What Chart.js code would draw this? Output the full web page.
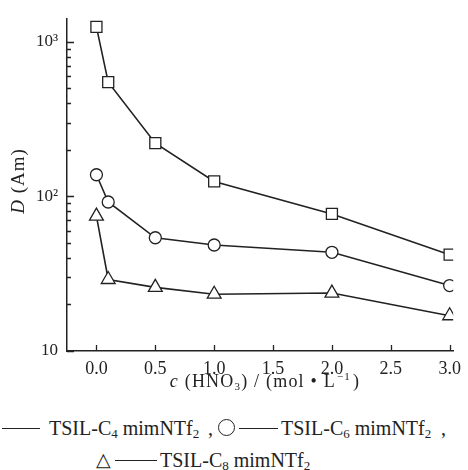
<!DOCTYPE html>
<html>
<head>
<meta charset="utf-8">
<script src="https://cdn.jsdelivr.net/npm/chart.js@4/dist/chart.umd.min.js"></script>
<style>
  html, body { margin: 0; padding: 0; background: #fff; }
  #wrap { position: relative; width: 468px; height: 470px; overflow: hidden;
          font-family: "Liberation Serif", "Times New Roman", serif; color: #222; }
  #chartBox { position: absolute; left: 0; top: 0; width: 468px; height: 400px; }
  .ytitle { position: absolute; left: 18px; top: 181px; transform: translate(-50%, -50%) rotate(-90deg);
            font-size: 19px; white-space: nowrap; letter-spacing: 1px; }
  .xtitle { position: absolute; left: 265px; top: 381px; transform: translate(-50%, -50%);
            font-size: 18px; white-space: nowrap; letter-spacing: 1.2px; }
  .xtitle sub { font-size: 11px; vertical-align: -3px; }
  .xtitle sup { font-size: 11px; vertical-align: 7px; margin: 0 2px 0 1px; }
  .leg { position: absolute; font-size: 20px; white-space: nowrap; line-height: 20px; }
  .leg sub { font-size: 13px; vertical-align: -3px; }
  .dash { position: absolute; height: 0; border-top: 1.3px solid #222; }
  .circ { position: absolute; width: 15px; height: 15px; border: 1.3px solid #222; border-radius: 50%; }
  i { font-style: italic; }
</style>
</head>
<body>
<div id="wrap">
  <div id="chartBox"><canvas id="chart"></canvas></div>
  <div class="ytitle"><i>D</i> (Am)</div>
  <div class="xtitle"><i>c</i> (HNO<sub>3</sub>) / (mol • L<sup>−1</sup>)</div>

  <div class="dash" style="left:2px; top:428px; width:38px;"></div>
  <span class="leg" style="left:49px; top:418px;">TSIL-C<sub>4</sub> mimNTf<sub>2</sub></span>
  <span class="leg" style="left:208px; top:418px;">,</span>
  <div class="circ" style="left:218px; top:419px;"></div>
  <div class="dash" style="left:239px; top:428px; width:39px;"></div>
  <span class="leg" style="left:281px; top:418px;">TSIL-C<sub>6</sub> mimNTf<sub>2</sub></span>
  <span class="leg" style="left:441px; top:418px;">,</span>

  <span class="leg" style="left:96px; top:450px; font-size:19px;">△</span>
  <div class="dash" style="left:115px; top:460px; width:42px;"></div>
  <span class="leg" style="left:160px; top:450px;">TSIL-C<sub>8</sub> mimNTf<sub>2</sub></span>
</div>
<script>
  /* ---------- 数据 ---------- */
  var HNO3 = [0, 0.1, 0.5, 1.0, 2.0, 3.0];
  var D_C4 = [1250, 548, 221, 125, 77, 42];
  var D_C6 = [138, 92, 54, 48.5, 43.5, 26.5];
  var D_C8 = [74.5, 29, 25.8, 23.3, 23.7, 16.9];
  var X_TICKS = [0, 0.5, 1.0, 1.5, 2.0, 2.5, 3.0];
  var Y_TICKS = [10, 20, 30, 40, 50, 60, 70, 80, 90, 100, 200, 300, 400, 500, 600, 700, 800, 900, 1000];
  var Y_LABELS = { 10: "10", 100: "10²", 1000: "10³" };

  var INK = "#222";
  var SERIF = '"Liberation Serif", "Times New Roman", serif';

  function pts(ys) {
    return HNO3.map(function (x, i) { return { x: x, y: ys[i] }; });
  }

  function series(ys, style, r) {
    return {
      data: pts(ys),
      borderColor: INK,
      borderWidth: 1.6,
      pointStyle: style,
      pointRadius: r,
      pointBorderWidth: 1.3,
      pointBorderColor: INK,
      pointBackgroundColor: "#fff",
      tension: 0
    };
  }

  /* 轴内刻度 */
  var innerTicks = {
    id: "innerTicks",
    afterDraw: function (chart) {
      var c = chart.ctx, a = chart.chartArea;
      var xs = chart.scales.x, ys = chart.scales.y;
      c.save();
      c.strokeStyle = INK;
      c.lineWidth = 1.3;
      c.beginPath();
      ys.ticks.forEach(function (t) {
        if (Y_TICKS.indexOf(t.value) < 0) return;
        var y = Math.round(ys.getPixelForValue(t.value)) + 0.5;
        var len = Y_LABELS[t.value] ? 7 : 4;
        c.moveTo(a.left, y);
        c.lineTo(a.left + len, y);
      });
      xs.ticks.forEach(function (t) {
        var x = Math.round(xs.getPixelForValue(t.value)) + 0.5;
        c.moveTo(x, a.bottom);
        c.lineTo(x, a.bottom - 6);
      });
      c.stroke();
      c.restore();
    }
  };

  new Chart(document.getElementById("chart"), {
    type: "line",
    data: {
      datasets: [
        series(D_C4, "rect", 7.8),
        series(D_C6, "circle", 6),
        series(D_C8, "triangle", 8)
      ]
    },
    options: {
      responsive: true,
      maintainAspectRatio: false,
      animation: false,
      layout: { padding: { top: 15, right: 11, left: 0, bottom: 0 } },
      plugins: { legend: { display: false }, tooltip: { enabled: false } },
      scales: {
        x: {
          type: "linear",
          min: -0.25,
          max: 3.03,
          afterBuildTicks: function (s) {
            s.ticks = X_TICKS.map(function (v) { return { value: v }; });
          },
          afterFit: function (s) { s.height = 49; },
          grid: { display: true, drawOnChartArea: false, drawTicks: false },
          border: { color: INK, width: 1.5 },
          ticks: {
            padding: 7,
            color: INK,
            font: { family: SERIF, size: 18 },
            callback: function (v) { return v.toFixed(1); }
          }
        },
        y: {
          type: "logarithmic",
          min: 10,
          max: 1400,
          afterBuildTicks: function (s) {
            s.ticks = Y_TICKS.map(function (v) { return { value: v }; });
          },
          afterFit: function (s) { s.width = 67; },
          grid: { display: true, drawOnChartArea: false, drawTicks: false },
          border: { color: INK, width: 1.5 },
          ticks: {
            padding: 9,
            autoSkip: false,
            color: INK,
            font: { family: SERIF, size: 17 },
            callback: function (v) { return Y_LABELS[v] || ""; }
          }
        }
      }
    },
    plugins: [innerTicks]
  });
</script>
</body>
</html>
